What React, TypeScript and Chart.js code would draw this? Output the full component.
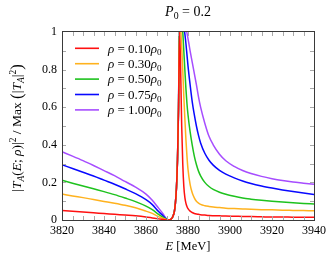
import React, { useEffect, useRef } from 'react';
import { Chart, registerables } from 'chart.js';

Chart.register(...registerables);

// ---------- data ----------
const energies = [
  3820, 3825, 3830, 3835, 3840, 3845, 3850, 3855, 3860, 3863, 3866, 3868, 3869, 3870,
  3870.5, 3871.5, 3872, 3872.5, 3873, 3873.5, 3874, 3874.5, 3875, 3875.5,
  3876, 3876.5, 3877, 3877.5, 3878, 3878.5, 3879, 3879.5, 3880,
  3881, 3882, 3883, 3884, 3885, 3886,
  3888, 3890, 3892, 3895, 3898,
  3902, 3906, 3910, 3915, 3920, 3925, 3930, 3935, 3940,
];

const rho010 = [
  0.05, 0.046, 0.042, 0.038, 0.034, 0.03, 0.026, 0.022, 0.016, 0.011, 0.006, 0.003, 0.0015, 0.0003,
  0, 0.002, 0.005, 0.012, 0.025, 0.045, 0.09, 0.17, 0.32, 0.6,
  1.0, 0.8, 0.5, 0.3, 0.18, 0.12, 0.09, 0.072, 0.06,
  0.047, 0.04, 0.035, 0.032, 0.03, 0.028,
  0.026, 0.024, 0.023, 0.022, 0.021,
  0.02, 0.019, 0.018, 0.017, 0.016, 0.016, 0.015, 0.015, 0.014,
];

const rho030 = [
  0.138, 0.128, 0.119, 0.109, 0.099, 0.089, 0.078, 0.065, 0.047, 0.035, 0.018, 0.009, 0.005, 0.001,
  0, 0.002, 0.005, 0.012, 0.025, 0.045, 0.09, 0.17, 0.32, 0.6,
  1.05, 1.02, 0.92, 0.8, 0.66, 0.54, 0.43, 0.34, 0.27,
  0.19, 0.145, 0.118, 0.1, 0.09, 0.083,
  0.076, 0.072, 0.069, 0.066, 0.063,
  0.061, 0.059, 0.057, 0.055, 0.054, 0.052, 0.051, 0.05, 0.049,
];

const rho050 = [
  0.211, 0.196, 0.181, 0.166, 0.151, 0.135, 0.117, 0.098, 0.074, 0.055, 0.03, 0.015, 0.008, 0.001,
  0, 0.002, 0.005, 0.012, 0.025, 0.045, 0.09, 0.17, 0.32, 0.6,
  1.08, 1.09, 1.05, 1.0, 0.9, 0.8, 0.7, 0.62, 0.56,
  0.47, 0.4, 0.34, 0.295, 0.26, 0.235,
  0.2, 0.178, 0.163, 0.148, 0.137,
  0.126, 0.117, 0.111, 0.105, 0.1, 0.096, 0.092, 0.088, 0.085,
];

const rho075 = [
  0.294, 0.274, 0.254, 0.234, 0.212, 0.19, 0.166, 0.14, 0.108, 0.082, 0.045, 0.024, 0.012, 0.002,
  0, 0.002, 0.005, 0.012, 0.025, 0.045, 0.09, 0.17, 0.32, 0.6,
  1.15, 1.17, 1.14, 1.09, 1.03, 0.99, 0.94, 0.88, 0.82,
  0.72, 0.63, 0.56, 0.5, 0.45, 0.41,
  0.355, 0.318, 0.292, 0.264, 0.244,
  0.224, 0.207, 0.194, 0.181, 0.17, 0.16, 0.151, 0.143, 0.136,
];

const rho100 = [
  0.363, 0.34, 0.316, 0.29, 0.263, 0.236, 0.205, 0.175, 0.138, 0.105, 0.063, 0.035, 0.018, 0.003,
  0, 0.002, 0.005, 0.012, 0.025, 0.045, 0.09, 0.17, 0.32, 0.6,
  1.12, 1.17, 1.16, 1.13, 1.09, 1.05, 1.02, 0.995, 0.965,
  0.9, 0.84, 0.78, 0.72, 0.655, 0.6,
  0.515, 0.445, 0.4, 0.35, 0.315,
  0.285, 0.263, 0.247, 0.232, 0.22, 0.21, 0.202, 0.196, 0.19,
];

const seriesValues = [rho010, rho030, rho050, rho075, rho100];
const seriesLabels = ['0.10', '0.30', '0.50', '0.75', '1.00'];
const seriesColors = ['#ff1010', '#ffb21e', '#1ec21e', '#0808ff', '#a64dff'];

const xTicks = [3820, 3840, 3860, 3880, 3900, 3920, 3940];
const yTicks = [0, 0.2, 0.4, 0.6, 0.8, 1];
const xMinorStep = 5;
const yMinorStep = 0.1;

// ---------- rich text helpers ----------
const FAMILY = "'Liberation Serif', 'DejaVu Serif', serif";
type Seg = { t: string; it?: boolean; sub?: boolean; sup?: boolean; big?: boolean };

function segFont(s: Seg, size: number) {
  const sz = s.sub || s.sup ? size * 0.7 : s.big ? size * 1.25 : size;
  return `${s.it ? 'italic ' : ''}${sz}px ${FAMILY}`;
}
function richWidth(ctx: CanvasRenderingContext2D, segs: Seg[], size: number) {
  let w = 0;
  for (const s of segs) {
    ctx.font = segFont(s, size);
    w += ctx.measureText(s.t).width;
  }
  return w;
}
function drawRich(
  ctx: CanvasRenderingContext2D,
  segs: Seg[],
  x: number,
  y: number,
  size: number,
  align: 'left' | 'center'
) {
  const w = richWidth(ctx, segs, size);
  let cx = align === 'center' ? x - w / 2 : x;
  ctx.textAlign = 'left';
  ctx.textBaseline = 'alphabetic';
  for (const s of segs) {
    ctx.font = segFont(s, size);
    const dy = s.sub ? size * 0.22 : s.sup ? -size * 0.4 : s.big ? size * 0.08 : 0;
    ctx.fillText(s.t, cx, y + dy);
    cx += ctx.measureText(s.t).width;
  }
}

const titleSegs: Seg[] = [{ t: 'P', it: true }, { t: '0', sub: true }, { t: ' = 0.2' }];
const xTitleSegs: Seg[] = [{ t: 'E', it: true }, { t: ' [MeV]' }];
const yTitleSegs: Seg[] = [
  { t: '|' }, { t: 'T', it: true }, { t: 'A', it: true, sub: true }, { t: '(' },
  { t: 'E', it: true }, { t: '; ' }, { t: 'ρ', it: true }, { t: ')|' }, { t: '2', sup: true },
  { t: ' / Max ' }, { t: '(', big: true }, { t: '|' }, { t: 'T', it: true }, { t: 'A', it: true, sub: true },
  { t: '|' }, { t: '2', sup: true }, { t: ')', big: true },
];

const decorPlugin = {
  id: 'decor',
  afterDatasetsDraw(chart: any) {
    const { ctx, chartArea: a, scales } = chart;
    const xs = scales.x;
    const ys = scales.y;
    ctx.save();
    // inward ticks on all four sides
    ctx.strokeStyle = '#a8a8a8';
    ctx.lineWidth = 1;
    ctx.beginPath();
    const xMin = xs.min, xMax = xs.max;
    for (let v = xMin + xMinorStep; v < xMax - 1e-6; v += xMinorStep) {
      const px = Math.round(xs.getPixelForValue(v)) + 0.5;
      ctx.moveTo(px, a.bottom);
      ctx.lineTo(px, a.bottom - 4);
      ctx.moveTo(px, a.top);
      ctx.lineTo(px, a.top + 4);
    }
    for (let v = ys.min + yMinorStep; v < ys.max - 1e-6; v += yMinorStep) {
      const py = Math.round(ys.getPixelForValue(v)) + 0.5;
      ctx.moveTo(a.left, py);
      ctx.lineTo(a.left + 4, py);
      ctx.moveTo(a.right, py);
      ctx.lineTo(a.right - 4, py);
    }
    ctx.stroke();
    // frame
    ctx.strokeStyle = '#3a3a3a';
    ctx.lineWidth = 1;
    ctx.strokeRect(a.left + 0.5, a.top - 0.5, a.right - a.left, a.bottom - a.top + 1);

    // legend
    ctx.fillStyle = '#000';
    chart.data.datasets.forEach((ds: any, i: number) => {
      const cy = a.top + 16.3 + i * 15.4;
      ctx.strokeStyle = ds.borderColor;
      ctx.lineWidth = 1.6;
      ctx.beginPath();
      ctx.moveTo(a.left + 13, cy);
      ctx.lineTo(a.left + 37, cy);
      ctx.stroke();
      const segs: Seg[] = [
        { t: 'ρ', it: true }, { t: ' = ' + seriesLabels[i] }, { t: 'ρ', it: true }, { t: '0', sub: true },
      ];
      drawRich(ctx, segs, a.left + 46, cy + 4.3, 13, 'left');
    });

    // titles
    const cx = (a.left + a.right) / 2;
    drawRich(ctx, titleSegs, cx, 15.5, 14, 'center');
    drawRich(ctx, xTitleSegs, cx, 250, 12.5, 'center');
    ctx.save();
    ctx.translate(21, (a.top + a.bottom) / 2 + 2);
    ctx.rotate(-Math.PI / 2);
    drawRich(ctx, yTitleSegs, 0, 0, 13.5, 'center');
    ctx.restore();
    ctx.restore();
  },
};

export default function App() {
  const ref = useRef<HTMLCanvasElement>(null);
  useEffect(() => {
    const canvas = ref.current;
    if (!canvas) return;
    const datasets = seriesValues.map((vals, i) => ({
      label: `ρ = ${seriesLabels[i]}ρ₀`,
      data: energies.map((e, j) => ({ x: e, y: vals[j] })),
      borderColor: seriesColors[i],
      backgroundColor: seriesColors[i],
      borderWidth: 1.5,
      pointRadius: 0,
      cubicInterpolationMode: 'monotone' as const,
      clip: 0,
      fill: false,
    }));
    const chart = new Chart(canvas, {
      type: 'line',
      data: { datasets },
      options: {
        animation: false,
        responsive: false,
        devicePixelRatio: 1,
        layout: { padding: { top: 32, right: 18, left: 0, bottom: 0 } },
        plugins: {
          legend: { display: false },
          title: { display: false },
          tooltip: { enabled: false },
        },
        scales: {
          x: {
            type: 'linear',
            min: xTicks[0],
            max: xTicks[xTicks.length - 1],
            afterBuildTicks: (s: any) => {
              s.ticks = xTicks.map((v) => ({ value: v }));
            },
            afterFit: (s: any) => {
              s.height = 40;
            },
            grid: { display: false, drawTicks: false },
            border: { display: false },
            ticks: {
              padding: 4,
              color: '#000',
              font: { family: FAMILY, size: 12 },
              maxRotation: 0,
              autoSkip: false,
              callback: (v: any) => String(v),
            },
          },
          y: {
            type: 'linear',
            min: yTicks[0],
            max: yTicks[yTicks.length - 1],
            afterBuildTicks: (s: any) => {
              s.ticks = yTicks.map((v) => ({ value: v }));
            },
            afterFit: (s: any) => {
              s.width = 62;
            },
            grid: { display: false, drawTicks: false },
            border: { display: false },
            ticks: {
              padding: 5,
              color: '#000',
              font: { family: FAMILY, size: 12 },
              autoSkip: false,
              callback: (v: any) => String(Number(Number(v).toFixed(1))),
            },
          },
        },
      },
      plugins: [decorPlugin],
    });
    return () => chart.destroy();
  }, []);
  return (
    <div style={{ position: 'fixed', left: 0, top: 0, width: 332, height: 260, background: '#fff' }}>
      <canvas ref={ref} width={332} height={260} style={{ display: 'block', width: 332, height: 260 }} />
    </div>
  );
}
